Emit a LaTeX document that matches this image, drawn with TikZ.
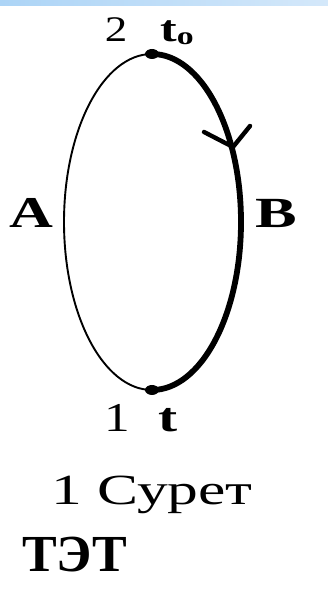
\documentclass[tikz,border=0pt]{standalone}
\usepackage{fontspec}
\setmainfont{Liberation Serif}
\definecolor{bandL}{RGB}{172,212,246}
\definecolor{bandR}{RGB}{212,232,250}
\tikzset{
  lbl/.style={inner sep=0pt, anchor=base},
  thinarc/.style={line width=1.9pt, black},
  thickarc/.style={line width=5.8pt, black},
  pointdot/.style={fill=black, draw=none},
  arrowv/.style={line width=4.4pt, line cap=round, line join=round}
}
\begin{document}
\begin{tikzpicture}[x=1pt,y=1pt]
\useasboundingbox (0,0) rectangle (328,593);
\fill[left color=bandL, right color=bandR] (0,587) rectangle (328,593);
% ellipse arcs
\coordinate (top) at (152,539);
\coordinate (bot) at (152,203);
\draw[thinarc] (top) arc[start angle=90, end angle=270, x radius=88, y radius=168];
\draw[thickarc] (top) arc[start angle=90, end angle=-90, x radius=89, y radius=168];
% arrow
\coordinate (aw1) at (204,461);
\coordinate (av) at (233,446);
\coordinate (aw2) at (250,467);
\draw[arrowv] (aw1) -- (av) -- (aw2);
% dots
\fill[pointdot] (top) ellipse[x radius=7, y radius=5];
\fill[pointdot] (bot) ellipse[x radius=7, y radius=5];
% labels
\node[lbl, font=\fontsize{36}{38}\selectfont] (n2) at (116,551) {\scalebox{1.25}[1]{2}};
\node[lbl, font=\bfseries\fontsize{37}{38}\selectfont] (nt0) at (177,551) {\scalebox{1.35}[1]{t\raisebox{-3pt}{\fontsize{25}{26}\selectfont o}}};
\node[lbl, font=\bfseries\fontsize{44}{46}\selectfont] (nA) at (31,365) {\scalebox{1.38}[1]{A}};
\node[lbl, font=\bfseries\fontsize{43}{46}\selectfont] (nB) at (276,365) {\scalebox{1.45}[1]{B}};
\node[lbl, font=\fontsize{41}{44}\selectfont] (n1) at (117,161) {\scalebox{1.25}[1]{1}};
\node[lbl, font=\bfseries\fontsize{41}{44}\selectfont] (nt) at (168,161) {\scalebox{1.4}[1]{t}};
\node[lbl, font=\fontsize{43}{46}\selectfont] (cap) at (152,88) {\scalebox{1.43}[1]{1 Сурет}};
\node[inner sep=0pt, anchor=base west, font=\bfseries\fontsize{52}{54}\selectfont] (tet) at (22,21) {ТЭТ};
\end{tikzpicture}
\end{document}
